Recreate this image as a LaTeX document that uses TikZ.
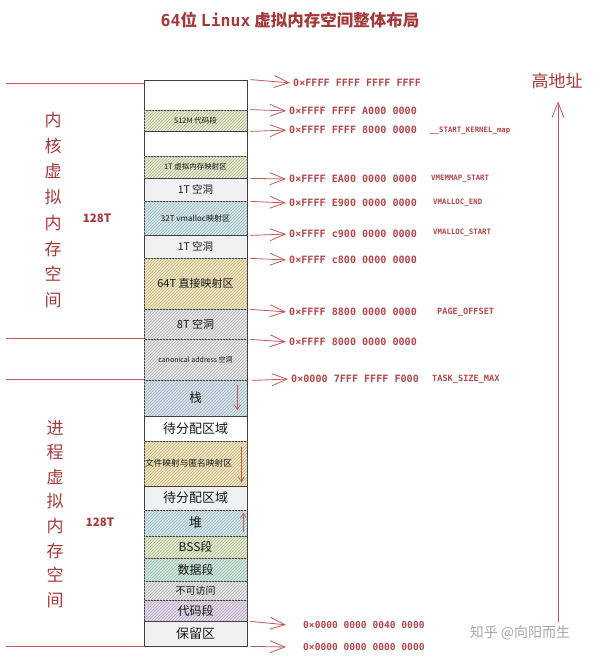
\documentclass[tikz,border=0pt]{standalone}
\usepackage{fontspec}
\setmainfont{Noto Sans CJK SC}
\setmonofont{DejaVu Sans Mono}
\usetikzlibrary{arrows.meta,patterns}
\definecolor{titlered}{HTML}{A23A3C}
\definecolor{addrred}{HTML}{B0474A}
\definecolor{linered}{HTML}{C0585C}
\definecolor{cOlive}{HTML}{E2ECC0}
\definecolor{cHole}{HTML}{EEF0F2}
\definecolor{cCyan}{HTML}{C8E9EE}
\definecolor{cBlue}{HTML}{CDE3EE}
\definecolor{cYellow}{HTML}{F6E6A9}
\definecolor{cGray}{HTML}{E6E6E6}
\definecolor{cTeal}{HTML}{C4EAD8}
\definecolor{cPurple}{HTML}{E4D3F0}

\tikzset{
  blk/.style={draw=black!75, line width=0.8pt, minimum width=103pt, inner sep=0pt, text=black!90},
  hatch/.style={postaction={pattern=north east lines, pattern color=black!30}},
  addr/.style={anchor=west, font=\ttfamily\bfseries\fontsize{10.1}{11}\selectfont, text=addrred, inner sep=1pt},
  sym/.style={anchor=west, font=\ttfamily\bfseries\fontsize{7.4}{8}\selectfont, text=addrred, inner sep=1pt},
  ptr/.style={draw=linered, line width=0.8pt, -{Straight Barb[length=15pt,width=12pt]}, shorten >=2pt},
  inarrow/.style={draw=linered, line width=0.7pt, -{Straight Barb[length=5pt,width=6pt]}},
  sep/.style={draw=linered, line width=0.9pt},
  side/.style={text=titlered, align=center, font=\fontsize{17}{25.7}\selectfont},
  size/.style={text=titlered, font=\bfseries\fontsize{11.5}{12}\selectfont},
}

\begin{document}
\begin{tikzpicture}[x=1pt,y=-1pt]
\useasboundingbox (0,0) rectangle (600,661);

% title
\node[text=titlered, font=\bfseries\fontsize{16.5}{18}\selectfont] (title) at (290,20)
  {{\ttfamily 64}位 {\ttfamily Linux} 虚拟内存空间整体布局};

% kernel part of the column
\node[blk, fill=white, minimum height=30pt] (top) at (195.5,95) {};
\node[blk, fill=cOlive, hatch, minimum height=21pt, font=\fontsize{7.5}{8}\selectfont] (k512) at (195.5,120.5) {512M 代码段};
\node[blk, fill=white, minimum height=25pt] (gap) at (195.5,143.5) {};
\node[blk, fill=cOlive, hatch, minimum height=22pt, font=\fontsize{7.5}{8}\selectfont] (vmemmap) at (195.5,167) {1T 虚拟内存映射区};
\node[blk, fill=cHole, minimum height=23pt, font=\fontsize{10.5}{11}\selectfont] (holeA) at (195.5,189.5) {1T 空洞};
\node[blk, fill=cCyan, hatch, minimum height=34pt, font=\fontsize{8}{9}\selectfont] (vmalloc) at (195.5,218) {32T vmalloc映射区};
\node[blk, fill=cHole, minimum height=23pt, font=\fontsize{10.5}{11}\selectfont] (holeB) at (195.5,246.5) {1T 空洞};
\node[blk, fill=cYellow, hatch, minimum height=51pt, font=\fontsize{11}{12}\selectfont] (direct) at (195.5,283.5) {64T 直接映射区};
\node[blk, fill=cGray, hatch, minimum height=30pt, font=\fontsize{11}{12}\selectfont] (holeC) at (195.5,324) {8T 空洞};
\node[blk, fill=cGray, hatch, minimum height=41pt, font=\fontsize{7}{8}\selectfont] (canon) at (195.5,359.5) {canonical address 空洞};

% user part of the column
\node[blk, fill=cBlue, hatch, minimum height=36pt, font=\fontsize{12.5}{13}\selectfont] (stack) at (195.5,398) {栈};
\node[blk, fill=white, minimum height=25pt, font=\fontsize{13}{14}\selectfont] (freeA) at (195.5,428.5) {待分配区域};
\node[blk, fill=cYellow, hatch, minimum height=45pt, font=\fontsize{8.7}{9}\selectfont,
  text width=101pt, align=left] (mmap) at (195.5,463.5) {文件映射与匿名映射区};
\node[blk, fill=cHole, minimum height=24pt, font=\fontsize{13}{14}\selectfont] (freeB) at (195.5,498) {待分配区域};
\node[blk, fill=cCyan, hatch, minimum height=26pt, font=\fontsize{13}{14}\selectfont] (heap) at (195.5,523) {堆};
\node[blk, fill=cOlive, hatch, minimum height=22pt, font=\fontsize{12}{13}\selectfont] (bss) at (195.5,547) {BSS段};
\node[blk, fill=cTeal, hatch, minimum height=23pt, font=\fontsize{12}{13}\selectfont] (data) at (195.5,569.5) {数据段};
\node[blk, fill=cGray, hatch, minimum height=19pt, font=\fontsize{10}{11}\selectfont] (noacc) at (195.5,590.5) {不可访问};
\node[blk, fill=cPurple, hatch, minimum height=21pt, font=\fontsize{12}{13}\selectfont] (code) at (195.5,610.5) {代码段};
\node[blk, fill=cHole, minimum height=25pt, font=\fontsize{13}{14}\selectfont] (resv) at (195.5,633.5) {保留区};

% growth arrows
\draw[inarrow] ([shift={(-10,5)}]stack.north east) -- ([shift={(-10,-6)}]stack.south east);
\draw[inarrow] ([shift={(-6,6)}]mmap.north east) -- ([shift={(-6,-4)}]mmap.south east);
\draw[inarrow] ([shift={(-4,-4)}]heap.south east) -- ([shift={(-4,3)}]heap.north east);

% addresses
\node[addr] (aTop) at (292,83) {0×FFFF FFFF FFFF FFFF};
\node[addr] (aText) at (288,111) {0×FFFF FFFF A000 0000};
\node[addr] (aKmap) at (288,130) {0×FFFF FFFF 8000 0000};
\node[addr] (aVmemmap) at (288,179) {0×FFFF EA00 0000 0000};
\node[addr] (aVmEnd) at (288,203) {0×FFFF E900 0000 0000};
\node[addr] (aVmStart) at (288,234) {0×FFFF c900 0000 0000};
\node[addr] (aHole) at (288,260) {0×FFFF c800 0000 0000};
\node[addr] (aPage) at (288,312) {0×FFFF 8800 0000 0000};
\node[addr] (aCanon) at (288,342) {0×FFFF 8000 0000 0000};
\node[addr] (aTask) at (290,379) {0×0000 7FFF FFFF F000};
\node[addr, font=\ttfamily\bfseries\fontsize{9.6}{10}\selectfont] (aCode) at (302,625) {0×0000 0000 0040 0000};
\node[addr, font=\ttfamily\bfseries\fontsize{9.6}{10}\selectfont] (aZero) at (302,647) {0×0000 0000 0000 0000};

\node[sym] (sKmap) at (429,131) {\_\_START\_KERNEL\_map};
\node[sym] (sVmemmap) at (430,179) {VMEMMAP\_START};
\node[sym] (sVmEnd) at (432,203) {VMALLOC\_END};
\node[sym] (sVmStart) at (432,233) {VMALLOC\_START};
\node[sym, font=\ttfamily\bfseries\fontsize{8.6}{9}\selectfont] (sPage) at (436,312) {PAGE\_OFFSET};
\node[sym, font=\ttfamily\bfseries\fontsize{8.6}{9}\selectfont] (sTask) at (431,379) {TASK\_SIZE\_MAX};

\draw[ptr] ([xshift=3pt]top.north east) -- (aTop.west);
\draw[ptr] ([xshift=3pt]k512.north east) -- (aText.west);
\draw[ptr] ([xshift=3pt]k512.south east) -- (aKmap.west);
\draw[ptr] ([xshift=3pt]vmemmap.south east) -- (aVmemmap.west);
\draw[ptr] ([xshift=3pt]holeA.south east) -- (aVmEnd.west);
\draw[ptr] ([xshift=3pt]vmalloc.south east) -- (aVmStart.west);
\draw[ptr] ([xshift=3pt]holeB.south east) -- (aHole.west);
\draw[ptr] ([xshift=3pt]direct.south east) -- (aPage.west);
\draw[ptr] ([xshift=3pt]holeC.south east) -- (aCanon.west);
\draw[ptr] ([xshift=5pt]canon.south east) -- (aTask.west);
\draw[ptr] ([xshift=3pt]code.south east) -- ([xshift=-14pt]aCode.west);
\draw[ptr] ([xshift=3pt]resv.south east) -- ([xshift=-14pt]aZero.west);

% left side
\coordinate (kTop) at (6,83);
\coordinate (kBot) at (6,338);
\coordinate (uTop) at (6,379);
\coordinate (uBot) at (6,646);
\draw[sep] (kTop) -- (kTop -| top.west);
\draw[sep] (kBot) -- (kBot -| top.west);
\draw[sep] (uTop) -- (uTop -| top.west);
\draw[sep] (uBot) -- (uBot -| top.west);
\node[side] (kernel) at (53,210) {内\\核\\虚\\拟\\内\\存\\空\\间};
\node[side, font=\fontsize{17}{24.6}\selectfont] (user) at (55,514) {进\\程\\虚\\拟\\内\\存\\空\\间};
\node[size] (kSize) at (97,218) {128T};
\node[size] (uSize) at (100,522) {128T};

% high address arrow
\node[text=titlered, font=\fontsize{17}{18}\selectfont] (high) at (557,81) {高地址};
\coordinate (low) at (558,622);
\draw[ptr, shorten >=9pt] (low) -- (low |- high.south);

\node[text=black!35, font=\fontsize{14}{15}\selectfont] (mark) at (520,633) {知乎 @向阳而生};
\end{tikzpicture}
\end{document}
